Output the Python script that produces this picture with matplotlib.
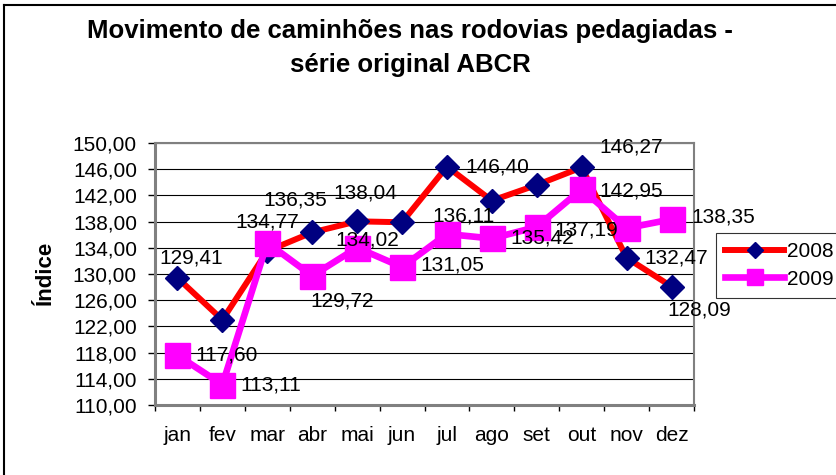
import matplotlib
matplotlib.use('Agg')
import matplotlib.pyplot as plt
import matplotlib.ticker as mticker
from matplotlib.lines import Line2D

plt.rcParams['font.family'] = ['Liberation Sans', 'DejaVu Sans']

# ---- data ----
months = ['jan', 'fev', 'mar', 'abr', 'mai', 'jun', 'jul', 'ago', 'set', 'out', 'nov', 'dez']
v2008 = [129.41, 123.00, 133.50, 136.35, 138.04, 137.90, 146.40, 141.20, 143.60, 146.27, 132.47, 128.09]
v2009 = [117.60, 113.11, 134.77, 129.72, 134.02, 131.05, 136.11, 135.42, 137.19, 142.95, 137.00, 138.35]
# points that carry a data label in the original chart
show2008 = [1, 0, 0, 1, 1, 0, 1, 0, 0, 1, 1, 1]
show2009 = [1, 1, 1, 1, 1, 1, 1, 1, 1, 1, 0, 1]
yticks = [110, 114, 118, 122, 126, 130, 134, 138, 142, 146, 150]

# label placement (offset pixels, horizontal alignment)
pos2008 = [(14, 20, 'center'), None, None, (-17, 32, 'center'), (8, 28, 'center'), None,
           (18, 0, 'left'), None, None, (18, 20, 'left'), (18, 0, 'left'), (28, -23, 'center')]
pos2009 = [(18, 0, 'left'), (18, 0, 'left'), (0, 21, 'center'), (30, -25, 'center'),
           (10, 8, 'center'), (18, 2, 'left'), (17, 18, 'center'), (18, 0, 'left'),
           (18, -3, 'left'), (18, -2, 'left'), None, (20, 2, 'left')]

def fmt(v):
    return ('%.2f' % v).replace('.', ',')

fig = plt.figure(figsize=(8.36, 4.75), dpi=100)
ax = fig.add_axes([155/836, 1-405/475, (694-155)/836, (405-143)/475])

x = list(range(len(months)))
ax.plot(x, v2008, color='#ff0000', lw=4.3, marker='D', ms=12,
        mfc='#000080', mec='#000080', label='2008', zorder=3)
ax.plot(x, v2009, color='#ff00ff', lw=4.8, marker='s', ms=18,
        mfc='#ff00ff', mec='#ff00ff', label='2009', zorder=4)

for vals, show, pos in [(v2008, show2008, pos2008), (v2009, show2009, pos2009)]:
    for i, v in enumerate(vals):
        if show[i] and pos[i] is not None:
            dx, dy, ha = pos[i]
            ax.annotate(fmt(v), (i, v), xytext=(dx, dy), textcoords='offset pixels',
                        ha=ha, va='center', fontsize=15, color='black', zorder=5,
                        annotation_clip=False)

ax.set_xlim(-0.5, len(months) - 0.5)
ax.set_ylim(110, 150)
ax.set_yticks(yticks)
ax.yaxis.set_major_formatter(mticker.FuncFormatter(lambda v, p: fmt(v)))
ax.set_xticks(x)
ax.set_xticklabels(months)
ax.set_xticks([i - 0.5 for i in range(len(months) + 1)], minor=True)
ax.tick_params(axis='x', which='major', length=0, pad=15, labelsize=15)
ax.tick_params(axis='x', which='minor', length=4, width=1, color='black', direction='out')
ax.tick_params(axis='y', length=5, width=1, color='black', pad=8, labelsize=15)
ax.grid(axis='y', color='black', lw=0.8)
ax.set_axisbelow(True)
for side in ['left', 'bottom']:
    ax.spines[side].set_color('#808080')
    ax.spines[side].set_linewidth(2.2)
for side in ['top', 'right']:
    ax.spines[side].set_color('#808080')
    ax.spines[side].set_linewidth(1.5)

fig.text(45/836, 1-273/475, 'Índice', rotation=90, ha='center', va='center',
         fontsize=16, fontweight='bold')
fig.text(410/836, 1-48/475, 'Movimento de caminhões nas rodovias pedagiadas -\nsérie original ABCR',
         ha='center', va='center', fontsize=18.5, fontweight='bold', linespacing=1.55)

leg = fig.legend(loc='upper left', bbox_to_anchor=(716/836, 1-233/475),
                 bbox_transform=fig.transFigure, borderaxespad=0, fontsize=15,
                 handlelength=2.8, handletextpad=0.15, labelspacing=0.4,
                 borderpad=0.45, markerscale=0.65, fancybox=False)
leg.get_frame().set_edgecolor('black')
leg.get_frame().set_linewidth(0.8)

# chart area border (left and top visible)
fig.add_artist(Line2D([4/836, 4/836], [0, 1-5/475], transform=fig.transFigure, color='black', lw=1.5))
fig.add_artist(Line2D([4/836, 1], [1-5/475, 1-5/475], transform=fig.transFigure, color='black', lw=1.5))

fig.savefig('out.png', dpi=100)
